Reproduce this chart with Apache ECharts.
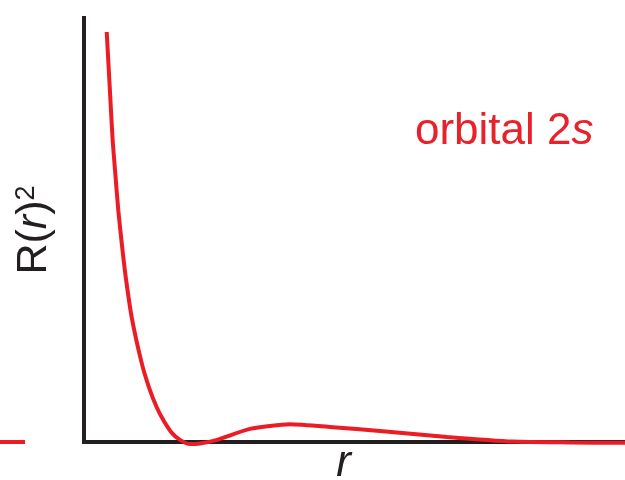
<!DOCTYPE html>
<html>
<head>
<meta charset="utf-8">
<script src="https://cdn.jsdelivr.net/npm/echarts@6/dist/echarts.min.js"></script>
<style>
  html, body { margin: 0; padding: 0; background: #fff; }
  #chart { width: 625px; height: 480px; }
</style>
</head>
<body>
<div id="chart"></div>
<script>
// radius (arbitrary units) and radial density
const radius = [4.20, 4.75, 5.30, 5.82, 6.34, 7.02, 7.67, 8.82, 10.67, 12.01, 13.44, 14.79, 16.27, 17.74, 19.59, 21.44, 24.58, 30.68, 38.08, 46.03, 54.71, 67.1, 79.3, 89.8, 100];
const density = [96.7, 83.8, 71.1, 62.8, 54.6, 46.4, 39.3, 29.4, 18.6, 12.9, 8.2, 4.9, 2.1, 0.5, -0.5, -0.35, 0.5, 3.1, 4.2, 3.5, 2.6, 1.2, 0.1, -0.1, -0.2];
// stray curve stub at the far left
const stubX = [0, 1];
const stubY = [0, 0];

const red = "#ec1c24";
const ink = "#231f20";
const font = "Liberation Sans";

let chart = echarts.init(document.getElementById("chart"));
chart.setOption({
    animation: false,
    title: {
        text: "{a|orbital 2}{i|s}",
        left: 410,
        top: 105,
        textStyle: {
            fontWeight: "normal",
            rich: {
                a: { fontFamily: font, fontSize: 44, fontWeight: "normal", color: "#e8222a" },
                i: { fontFamily: font, fontSize: 44, fontWeight: "normal", fontStyle: "italic", color: "#e8222a" }
            }
        }
    },
    grid: [
        { left: 84, right: 0, top: 18, bottom: 38, outerBoundsMode: "none", containLabel: false },
        { left: 0, width: 25, top: 18, bottom: 38, outerBoundsMode: "none", containLabel: false }
    ],
    xAxis: [{
        type: "value",
        gridIndex: 0,
        min: 0,
        max: 100,
        name: "r",
        nameLocation: "middle",
        nameGap: 0,
        nameTextStyle: { fontFamily: font, fontSize: 44, fontStyle: "italic", color: ink, padding: [0, 22, 0, 0] },
        axisLine: { lineStyle: { color: ink, width: 4, cap: "square" } },
        axisTick: { show: false },
        axisLabel: { show: false },
        splitLine: { show: false }
    }, {
        type: "value",
        gridIndex: 1,
        min: 0,
        max: 1,
        show: false
    }],
    yAxis: [{
        type: "value",
        gridIndex: 0,
        min: 0,
        max: 100,
        name: "{a|R(}{i|r}{a|)}{s|2}",
        nameLocation: "middle",
        nameRotate: 90,
        nameGap: 28,
        nameTextStyle: {
            color: ink,
            rich: {
                a: { fontFamily: font, fontSize: 43, color: ink },
                i: { fontFamily: font, fontSize: 43, fontStyle: "italic", color: ink },
                s: { fontFamily: font, fontSize: 27, color: ink, verticalAlign: "top" }
            }
        },
        axisLine: { lineStyle: { color: ink, width: 4, cap: "square" } },
        axisTick: { show: false },
        axisLabel: { show: false },
        splitLine: { show: false }
    }, {
        type: "value",
        gridIndex: 1,
        min: 0,
        max: 100,
        show: false
    }],
    series: [{
        type: "line",
        xAxisIndex: 0,
        yAxisIndex: 0,
        data: radius.map((r, i) => [r, density[i]]),
        smooth: 0.2,
        showSymbol: false,
        clip: false,
        lineStyle: { color: red, width: 4 }
    }, {
        type: "line",
        xAxisIndex: 1,
        yAxisIndex: 1,
        data: stubX.map((x, i) => [x, stubY[i]]),
        showSymbol: false,
        clip: false,
        lineStyle: { color: red, width: 4 }
    }]
});
</script>
</body>
</html>
